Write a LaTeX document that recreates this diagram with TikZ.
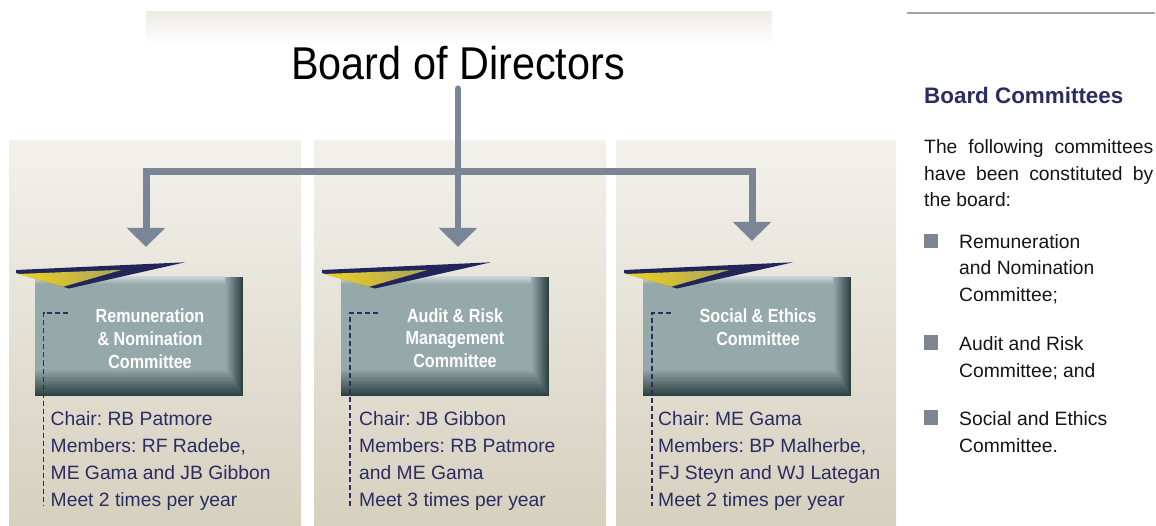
\documentclass[tikz,border=0pt]{standalone}
\usepackage{fontspec}
\setmainfont{Liberation Sans}
\newfontfamily\titlefont[FakeStretch=0.9]{Liberation Sans}
\newfontfamily\boxfont[FakeStretch=0.85]{Liberation Sans}
\usetikzlibrary{arrows.meta}
\definecolor{paneltop}{HTML}{F2F1EC}
\definecolor{panelbot}{HTML}{D6D0BE}
\definecolor{bandtop}{HTML}{EDECE5}
\definecolor{boxbase}{HTML}{95A8AA}
\definecolor{boxdark}{HTML}{2C4040}
\definecolor{boxlight}{HTML}{C8D3D5}
\definecolor{navy}{HTML}{2B2C62}
\definecolor{pennavy}{HTML}{22255A}
\definecolor{penyellow}{HTML}{F0D31E}
\definecolor{penolive}{HTML}{A8A260}
\definecolor{arrowgray}{HTML}{7A8695}
\definecolor{bulletgray}{HTML}{7C8590}
\definecolor{rulegray}{HTML}{A5A5A5}
\definecolor{bodyblack}{HTML}{151515}
\tikzset{
  conn/.style={draw=arrowgray, line width=7pt},
  headtip/.tip={Triangle[width=37pt,length=19pt]},
  dashline/.style={draw=navy, line width=1.8pt, dash pattern=on 5pt off 3pt},
  boxtext/.style={text=white, font=\boxfont\bfseries\fontsize{19}{22.7}\selectfont, align=center, inner sep=0pt, anchor=base},
  membertext/.style={text=navy, font=\frenchspacing\fontsize{19.3}{26.7}\selectfont, align=left, inner sep=0pt, anchor=base west},
  bodytext/.style={text=bodyblack, font=\frenchspacing\fontsize{19.3}{26.7}\selectfont, align=left, inner sep=0pt, anchor=base west},
  bulletsq/.style={fill=bulletgray, minimum width=14pt, minimum height=14.5pt, inner sep=0pt},
}
\newcommand\committeebox[1]{%
  \foreach \k in {0,...,24}{%
    \pgfmathsetmacro\p{100*\k/24}%
    \fill[boxbase!\p!boxdark] (#1,277) rectangle ({#1+208-\k*0.7},{396-\k*1.1});
  }%
  \shade[top color=boxlight, bottom color=boxbase] (#1,277) rectangle (#1+190,284);
}
\newcommand\penshape[1]{%
  \fill[pennavy] (#1-19,270) -- (#1+150,262.3) -- (#1+34,288.5) -- (#1-19,273) -- cycle;
  \shade[left color=penyellow, right color=penolive] (#1-17,274) -- (#1+87,269.8) -- (#1+28,286.8) -- cycle;
}
\begin{document}
\begin{tikzpicture}[x=1pt,y=-1pt]
\useasboundingbox (0,0) rectangle (1156,526);
\fill[white] (0,0) rectangle (1156,526);
% top band
\shade[top color=bandtop, bottom color=white] (146,12) rectangle (772,44);
% panels
\shade[top color=paneltop, bottom color=panelbot] (9,141) rectangle (301,526);
\shade[top color=paneltop, bottom color=panelbot] (314,141) rectangle (606,526);
\shade[top color=paneltop, bottom color=panelbot] (616,141) rectangle (896,526);
% title
\node[font=\titlefont\fontsize{46}{52}\selectfont, inner sep=0pt, anchor=base] (board) at (458,80) {Board of Directors};
% target coordinates
\coordinate (t1) at (146,247);
\coordinate (t2) at (458,247);
\coordinate (t3) at (752,241);
% connectors
\draw[conn, miter limit=10, headtip-headtip] (t1) -- (146,172) -- (752,172) -- (t3);
\draw[conn, line width=6.5pt, line cap=round, -headtip] ([yshift=-8pt]board.south) -- (t2);
% committee boxes
\committeebox{35}
\committeebox{341}
\committeebox{643}
\penshape{35}
\penshape{341}
\penshape{643}
\node[boxtext] (c1) at (150,368) {Remuneration\\\& Nomination\\Committee};
\node[boxtext] (c2) at (455,367.5) {Audit \& Risk\\Management\\Committee};
\node[boxtext] (c3) at (758,345.5) {Social \& Ethics\\Committee};
% dashed guides
\draw[dashline] (68,313) -- (43.5,313) -- (43.5,506);
\draw[dashline] (378,313) -- (350,313) -- (350,506);
\draw[dashline] (671,313) -- (652,313) -- (652,506);
% members
\node[membertext] (m1) at (50.5,506) {Chair: RB Patmore\\Members: RF Radebe,\\ME Gama and JB Gibbon\\Meet 2 times per year};
\node[membertext] (m2) at (359,506) {Chair: JB Gibbon\\Members: RB Patmore\\and ME Gama\\Meet 3 times per year};
\node[membertext] (m3) at (658,506) {Chair: ME Gama\\Members: BP Malherbe,\\FJ Steyn and WJ Lategan\\Meet 2 times per year};
% right column
\draw[rulegray, line width=2pt] (907,13) -- (1155,13);
\node[text=navy, font=\bfseries\fontsize{22.4}{26}\selectfont, inner sep=0pt, anchor=base west] (bc) at (924,103.3) {Board Committees};
\node[bodytext] (intro) at (924,207) {\hbox to 229pt{The\hfill following\hfill committees}\\\hbox to 229pt{have\hfill been\hfill constituted\hfill by}\\the board:};
\node[bulletsq, anchor=south west] (b1) at (924,248.3) {};
\node[bodytext] (i1) at (959,301.7) {Remuneration\\and Nomination\\Committee;};
\node[bulletsq, anchor=south west] (b2) at (924,350) {};
\node[bodytext] (i2) at (959,377.3) {Audit and Risk\\Committee; and};
\node[bulletsq, anchor=south west] (b3) at (924,425) {};
\node[bodytext] (i3) at (959,452.3) {Social and Ethics\\Committee.};
\end{tikzpicture}
\end{document}
